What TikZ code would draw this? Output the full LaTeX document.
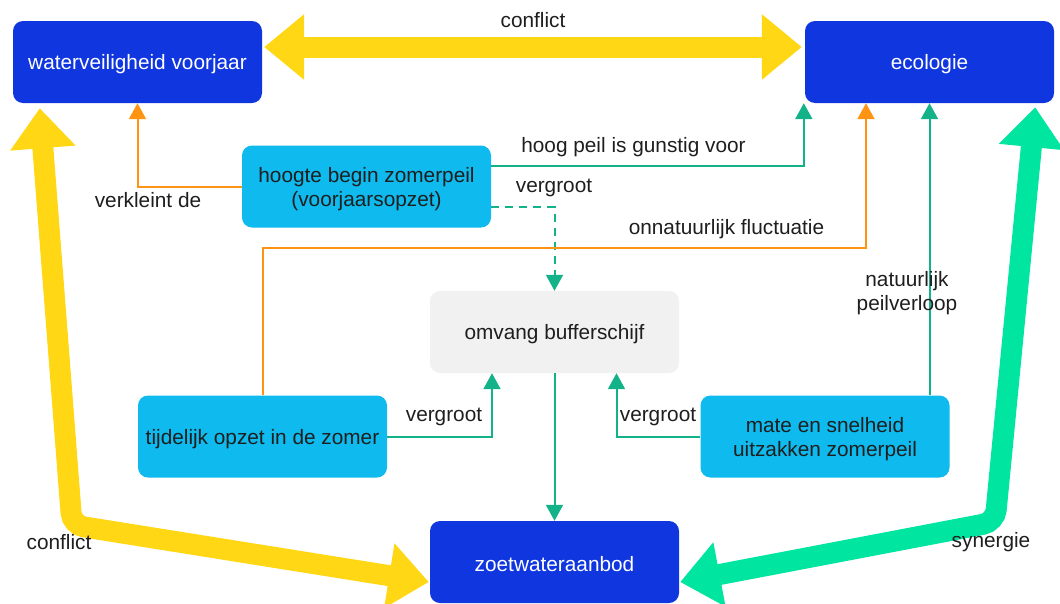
\documentclass[tikz,border=0pt]{standalone}
\usepackage{fontspec}
\setmainfont{Liberation Sans}
\usetikzlibrary{arrows.meta,calc}

\definecolor{boxblue}{RGB}{16,54,223}
\definecolor{boxcyan}{RGB}{14,186,238}
\definecolor{boxgray}{RGB}{241,241,241}
\definecolor{textdark}{RGB}{30,30,30}
\definecolor{flowyellow}{RGB}{255,215,20}
\definecolor{flowmint}{RGB}{0,229,160}
\definecolor{linkgreen}{RGB}{20,178,136}
\definecolor{linkorange}{RGB}{255,148,20}

% extra head room in the first line of a box, so its text sits a little lower
\newcommand\bxstrut{\rule{0pt}{20pt}}

\begin{document}
\begin{tikzpicture}[x=1pt,y=-1pt,
  box/.style={rounded corners=10pt, minimum width=249pt, minimum height=82pt,
    align=center, inner sep=0pt, font=\fontsize{20.8}{24}\selectfont},
  mainbox/.style={box, fill=boxblue, text=white},
  factor/.style={box, fill=boxcyan, text=textdark},
  bufbox/.style={box, fill=boxgray, text=textdark},
  lbl/.style={font=\fontsize{20.8}{24}\selectfont, text=textdark, inner sep=0pt, align=center},
  link/.style={line width=2pt, -{Triangle[length=16pt,width=17pt]}},
  poslink/.style={link, draw=linkgreen},
  neglink/.style={link, draw=linkorange},
  bigarrow/.style={line width=21pt, rounded corners=12pt,
    {Triangle[length=40pt,width=63pt]}-{Triangle[length=40pt,width=63pt]}},
]
\useasboundingbox (0,0) rectangle (1060,603);

% boxes
\node[mainbox] (wv)   at (137.5,62)    {\bxstrut waterveiligheid voorjaar};
\node[mainbox] (eco)  at (929.5,62)    {\bxstrut ecologie};
\node[factor]  (hb)   at (366.5,186.5) {\bxstrut hoogte begin zomerpeil\\(voorjaarsopzet)};
\node[bufbox]  (omv)  at (554.5,332)   {\bxstrut omvang bufferschijf};
\node[factor]  (tij)  at (262.5,436.5) {\bxstrut tijdelijk opzet in de zomer};
\node[factor]  (mate) at (825,436.5)   {\bxstrut mate en snelheid\\uitzakken zomerpeil};
\node[mainbox] (zw)   at (554.5,562)   {\bxstrut zoetwateraanbod};

% broad two-way relations between the main interests
\coordinate (ylc) at (72,525);
\coordinate (mrc) at (995,522);
\draw[bigarrow, draw=flowyellow] ($(wv.east)+(2,-15)$) -- ($(eco.west)+(-3,-15)$);
\draw[bigarrow, draw=flowyellow] ($(wv.south west)+(27,5)$) -- (ylc) -- ($(zw.west)+(-1,20)$);
\draw[bigarrow, draw=flowmint] ($(eco.south east)+(-19,4)$) -- (mrc) -- ($(zw.east)+(1,20)$);

% influences
\coordinate (fl) at (866,248);
\draw[neglink] (hb.west) -| (wv.south);
\draw[poslink] ($(hb.east)+(0,-20.5)$) -| ($(eco.south west)+(-1,0)$);
\draw[poslink, dash pattern=on 8pt off 6pt] ($(hb.east)+(0,20.5)$) -| (omv.north);
\draw[neglink] (tij.north) |- (fl) -- (fl |- eco.south);
\draw[poslink] (mate.north -| eco.south) -- (eco.south);
\draw[poslink] (tij.east) -| ($(omv.south)+(-62.5,0)$);
\draw[poslink] (mate.west) -| ($(omv.south)+(62,0)$);
\draw[poslink] (omv.south) -- (zw.north);

% labels
\node[lbl] (l1)  at (533,20)    {conflict};
\node[lbl] (l2)  at (148,200)   {verkleint de};
\node[lbl] (l3)  at (633.5,147) {hoog peil is gunstig voor};
\node[lbl] (l4)  at (554,188)   {vergroot};
\node[lbl] (l5)  at (726.5,229) {onnatuurlijk fluctuatie};
\node[lbl] (l6)  at (907,293)   {natuurlijk\\peilverloop};
\node[lbl] (l7)  at (444,417)   {vergroot};
\node[lbl] (l8)  at (658,417)   {vergroot};
\node[lbl] (l9)  at (59,542)    {conflict};
\node[lbl] (l10) at (991,542)   {synergie};
\end{tikzpicture}
\end{document}
